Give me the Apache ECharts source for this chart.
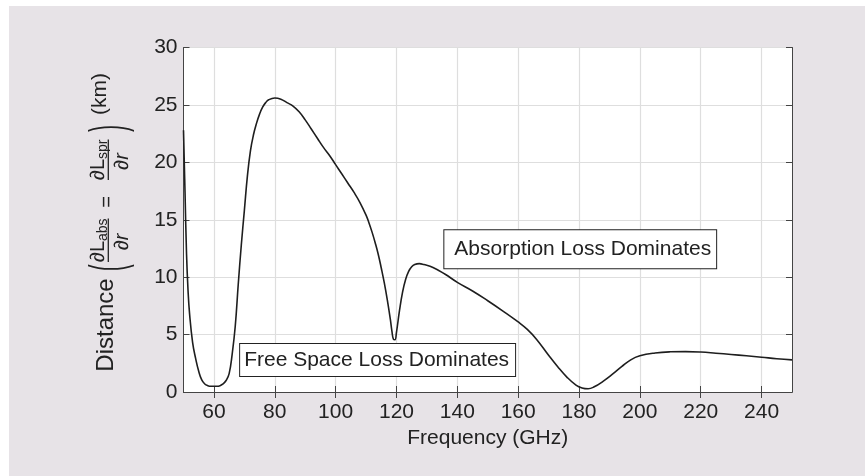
<!DOCTYPE html>
<html>
<head>
<meta charset="utf-8">
<script src="https://cdn.jsdelivr.net/npm/echarts@6/dist/echarts.min.js"></script>
<style>
  html, body { margin: 0; padding: 0; background: #fff; }
  #chart { position: absolute; left: 9px; top: 6px; width: 856px; height: 470px; background: #e7e3e7; }
</style>
</head>
<body>
<div id="chart"></div>
<script>
// distance where absorption loss slope equals spreading loss slope
const freqGHz = [
  50, 50.5, 51, 51.5, 52, 53, 54, 55, 56, 57, 58, 59, 60, 61, 62, 63, 64, 65, 66, 67,
  68, 69, 70, 71, 72, 73, 74, 75, 76, 77, 78, 80, 82, 84, 86, 88, 90, 92, 94, 96,
  98, 100, 102, 104, 106, 108, 110, 111, 112, 113, 114, 115, 116, 117, 118, 118.5, 119, 119.5, 120, 121, 122,
  123, 124, 125, 126, 127.5, 129, 132, 136, 140, 145, 150, 155, 160, 163, 166, 170, 173, 176, 179, 181,
  183, 185, 188, 191, 194, 197, 200, 205, 210, 215, 220, 225, 230, 235, 240, 245, 250
];
const distanceKm = [
  22.8, 17.4, 12.0, 8.8, 6.8, 4.3, 2.9, 1.8, 1.05, 0.7, 0.55, 0.5, 0.5, 0.5, 0.55, 0.7, 1.0, 1.6, 3.3, 5.7,
  9.4, 12.8, 15.8, 18.8, 21.0, 22.4, 23.4, 24.2, 24.8, 25.2, 25.45, 25.6, 25.5, 25.2, 24.9, 24.4, 23.7, 22.9, 22.1, 21.3,
  20.6, 19.8, 19.0, 18.2, 17.4, 16.5, 15.4, 14.7, 13.9, 13.0, 12.0, 10.8, 9.5, 8.0, 6.3, 5.3, 4.6, 4.55, 5.2, 7.1, 8.7,
  9.8, 10.5, 10.9, 11.1, 11.18, 11.1, 10.85, 10.25, 9.55, 8.8, 7.95, 7.05, 6.1, 5.45, 4.6, 3.2, 2.2, 1.3, 0.6, 0.35,
  0.28, 0.45, 0.95, 1.55, 2.2, 2.8, 3.15, 3.4, 3.5, 3.52, 3.48, 3.38, 3.27, 3.15, 3.03, 2.9, 2.8
];
const xTicks = [60, 80, 100, 120, 140, 160, 180, 200, 220, 240];

const noteFree = { text: 'Free Space Loss Dominates', at: [113.8, 2.79] };
const noteAbs = { text: 'Absorption Loss Dominates', at: [180.4, 12.44] };

const FONT = '"Liberation Sans", Arial, Helvetica, sans-serif';
const INK = '#222';

const ctx = document.createElement('canvas').getContext('2d');
function measure(str, size, style) {
  ctx.font = (style || 'normal') + ' ' + size + 'px "Liberation Sans"';
  return ctx.measureText(str).width;
}

function txt(str, x, y, size, extra) {
  return Object.assign({
    type: 'text', x: x, y: y,
    style: { text: str, fontSize: size, fontFamily: FONT, fill: INK, align: 'left', verticalAlign: 'middle' }
  }, extra || {});
}

// one fraction  dL_sub / dr, laid out along the rotated label
function fraction(start, sub) {
  const w1 = measure('\u2202L', 20);
  const w2 = measure(sub, 14);
  const len = w1 + w2;
  return [
    txt('\u2202L', start, -14.6, 20),
    txt(sub, start + w1, -10.2, 14),
    { type: 'line', shape: { x1: start, y1: -4.7, x2: start + len, y2: -4.7 }, style: { stroke: INK, lineWidth: 1.3 } },
    { type: 'text', x: start + len / 2, y: 9.5,
      style: { text: '\u2202', fontSize: 20, fontFamily: FONT, fill: INK, align: 'right', verticalAlign: 'middle' } },
    { type: 'text', x: start + len / 2, y: 9.5,
      style: { text: 'r', fontSize: 20, fontFamily: FONT, fontStyle: 'italic', fill: INK, align: 'left', verticalAlign: 'middle' } }
  ];
}

function paren(ch, at) {
  return { type: 'text', x: at, y: -3, scaleY: 2.5,
    style: { text: ch, fontSize: 20, fontFamily: FONT, fill: INK, align: 'center', verticalAlign: 'middle' } };
}

const yLabel = {
  type: 'group',
  x: 104, y: 365.7,
  rotation: Math.PI / 2,
  children: [
    txt('Distance', 0, -7, 24),
    paren('(', 104),
    ...fraction(109.7, 'abs'),
    { type: 'text', x: 169.7, y: -6,
      style: { text: '=', fontSize: 20, fontFamily: FONT, fill: INK, align: 'center', verticalAlign: 'middle' } },
    ...fraction(191.7, 'spr'),
    paren(')', 243.2),
    txt('(km)', 256.7, -13, 21)
  ]
};

function note(n, padding) {
  return {
    coord: n.at, symbolSize: 0,
    label: {
      show: true, position: 'inside', formatter: n.text,
      fontSize: 21, fontFamily: FONT, color: INK, lineHeight: 22,
      backgroundColor: '#fff', borderColor: INK, borderWidth: 1, padding: padding
    }
  };
}

const chart = echarts.init(document.getElementById('chart'));

const axisLineStyle = { color: '#444', width: 1 };

chart.setOption({
  animation: false,
  textStyle: { fontFamily: FONT },
  grid: { left: 174.5, top: 41.5, width: 608.5, height: 344.5, show: true, backgroundColor: '#fff', borderWidth: 0 },
  xAxis: [
    {
      type: 'value', min: 50, max: 250, position: 'bottom',
      name: 'Frequency (GHz)', nameLocation: 'middle', nameGap: 34,
      nameTextStyle: { fontSize: 21, color: INK, fontFamily: FONT },
      axisLine: { show: true, lineStyle: axisLineStyle },
      axisTick: { show: true, inside: true, length: 6, customValues: xTicks, lineStyle: axisLineStyle },
      axisLabel: { customValues: xTicks, fontSize: 21, color: INK, margin: 10, fontFamily: FONT },
      splitLine: { show: true, lineStyle: { color: '#dedede', width: 1.2 } }
    },
    {
      type: 'value', min: 50, max: 250, position: 'top',
      axisLine: { show: true, lineStyle: axisLineStyle },
      axisTick: { show: true, inside: true, length: 6, customValues: xTicks, lineStyle: axisLineStyle },
      axisLabel: { show: false },
      splitLine: { show: false }
    }
  ],
  yAxis: [
    {
      type: 'value', min: 0, max: 30, interval: 5, position: 'left',
      axisLine: { show: true, lineStyle: axisLineStyle },
      axisTick: { show: true, inside: true, length: 6, lineStyle: axisLineStyle },
      axisLabel: { fontSize: 21, color: INK, margin: 6, fontFamily: FONT },
      splitLine: { show: true, lineStyle: { color: '#dedede', width: 1.2 } }
    },
    {
      type: 'value', min: 0, max: 30, interval: 5, position: 'right',
      axisLine: { show: true, lineStyle: axisLineStyle },
      axisTick: { show: true, inside: true, length: 6, lineStyle: axisLineStyle },
      axisLabel: { show: false },
      splitLine: { show: false }
    }
  ],
  series: [
    {
      type: 'line',
      data: freqGHz.map((f, i) => [f, distanceKm[i]]),
      showSymbol: false,
      smooth: 0.45,
      lineStyle: { color: '#1e1e1e', width: 1.6 },
      markPoint: {
        symbol: 'circle', symbolSize: 0,
        data: [note(noteFree, [5, 6, 5, 4]), note(noteAbs, [5, 5, 11, 10])]
      }
    }
  ],
  graphic: [yLabel]
});
</script>
</body>
</html>
